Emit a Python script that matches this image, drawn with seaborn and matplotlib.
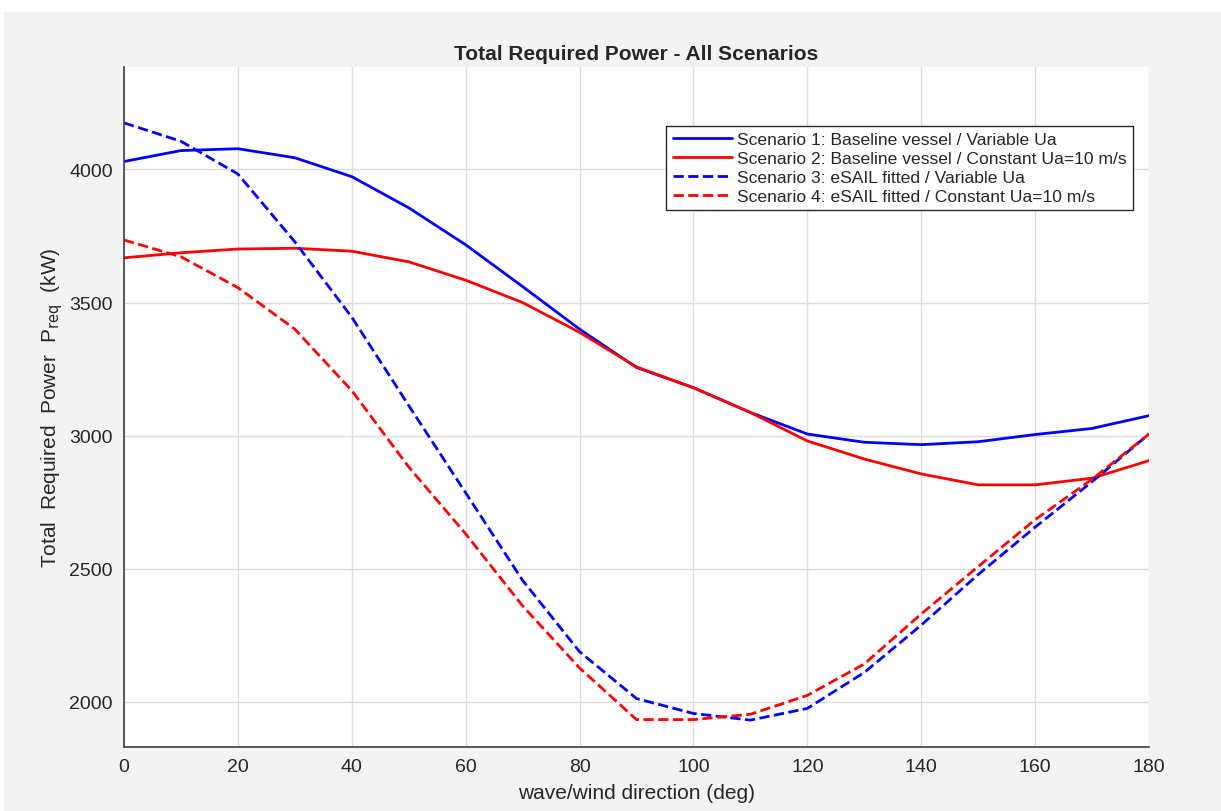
import numpy as np
import pandas as pd
import matplotlib
matplotlib.use("Agg")
import matplotlib.pyplot as plt
import seaborn as sns
from matplotlib.patches import Rectangle

# ---- data ----
direction = [0, 10, 20, 30, 40, 50, 60, 70, 80, 90, 100, 110, 120, 130, 140, 150, 160, 170, 180]
s1_baseline_var = [4030, 4071, 4078, 4044, 3973, 3856, 3717, 3560, 3400, 3256, 3180, 3087, 3006, 2975, 2966, 2977, 3004, 3027, 3075]
s2_baseline_const = [3668, 3687, 3701, 3704, 3693, 3653, 3584, 3500, 3388, 3258, 3180, 3087, 2980, 2912, 2856, 2815, 2815, 2840, 2906]
s3_esail_var = [4175, 4106, 3983, 3728, 3445, 3113, 2785, 2456, 2188, 2012, 1956, 1931, 1975, 2110, 2288, 2478, 2656, 2827, 3006]
s4_esail_const = [3735, 3672, 3556, 3400, 3169, 2882, 2631, 2360, 2127, 1933, 1933, 1953, 2024, 2142, 2330, 2508, 2684, 2836, 3006]

labels = [
    "Scenario 1: Baseline vessel / Variable Ua",
    "Scenario 2: Baseline vessel / Constant Ua=10 m/s",
    "Scenario 3: eSAIL fitted / Variable Ua",
    "Scenario 4: eSAIL fitted / Constant Ua=10 m/s",
]
series = [s1_baseline_var, s2_baseline_const, s3_esail_var, s4_esail_const]
colors = ["#0000ff", "#ff0000", "#0000ff", "#ff0000"]
dashed = [False, False, True, True]

x_ticks = [0, 20, 40, 60, 80, 100, 120, 140, 160, 180]
y_ticks = [2000, 2500, 3000, 3500, 4000]

# ---- style ----
sns.set_theme(style="white")
plt.rcParams['font.family'] = ['Liberation Sans', 'DejaVu Sans']
txt = "#262626"

fig = plt.figure(figsize=(12.21, 8.12), dpi=100, facecolor="white")
fig.patches.append(Rectangle((4 / 1221, 0), 1.0, (812 - 13) / 812, transform=fig.transFigure,
                             facecolor="#f3f3f3", edgecolor="none", zorder=-10))
ax = fig.add_axes([124 / 1221, 1 - 748 / 812, (1149 - 124) / 1221, (748 - 68) / 812])
ax.set_facecolor("white")

for y, lab, c, d in zip(series, labels, colors, dashed):
    df = pd.DataFrame({"dir": direction, "P": y})
    kw = dict(dashes=(3.8, 2.2)) if d else {}
    sns.lineplot(data=df, x="dir", y="P", ax=ax, color=c, linewidth=2.0, label=lab,
                 linestyle="--" if d else "-", **kw)

ax.set_xlim(0, 180)
ax.set_ylim(1830, 4385)
ax.set_xticks(x_ticks)
ax.set_yticks(y_ticks)
ax.grid(True, color="#dcdcdc", linewidth=1.0)
ax.set_axisbelow(True)

for s in ["top", "right"]:
    ax.spines[s].set_visible(False)
for s in ["left", "bottom"]:
    ax.spines[s].set_color("#404040")
    ax.spines[s].set_linewidth(1.2)

ax.tick_params(axis="both", direction="in", length=9, width=1.2, color="#404040",
               labelsize=14, labelcolor=txt, pad=8)

ax.set_title("Total Required Power - All Scenarios", fontsize=15, fontweight="bold",
             color=txt, pad=6)
ax.set_xlabel("wave/wind direction (deg)", fontsize=15, color=txt, labelpad=6)
ax.set_ylabel(r"Total  Required  Power  P$_{\mathrm{req}}$  (kW)", fontsize=15, color=txt, labelpad=3)

leg = ax.legend(loc="upper right", bbox_to_anchor=((1133 - 124) / 1025, (748 - 127) / 680),
                fontsize=12.6, frameon=True, fancybox=False, framealpha=1,
                edgecolor="#262626", handlelength=3.4, handletextpad=0.3,
                labelspacing=0.2, borderpad=0.35, borderaxespad=0)
leg.get_frame().set_linewidth(1.0)
for t in leg.get_texts():
    t.set_color(txt)

fig.savefig("out.png", dpi=100, facecolor=fig.get_facecolor())
